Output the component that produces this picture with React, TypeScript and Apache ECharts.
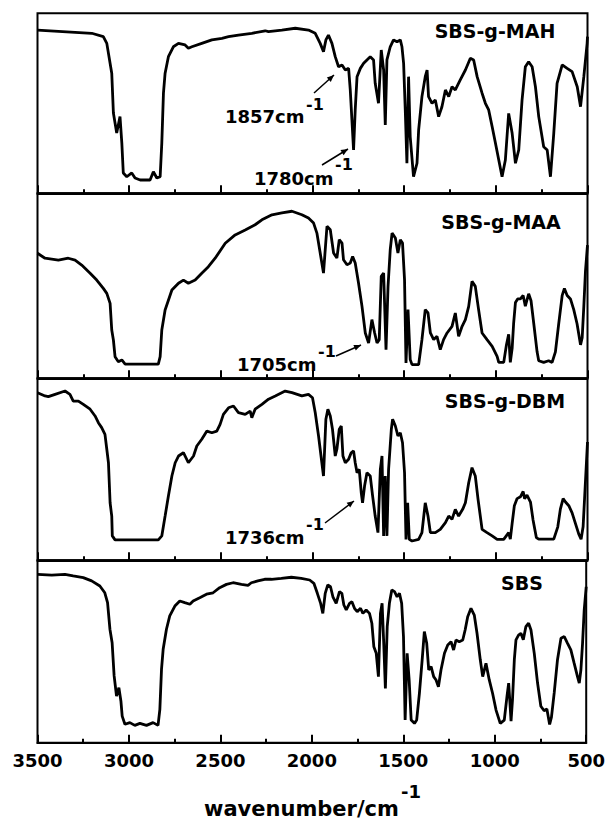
import React, { useEffect, useRef } from "react";
import * as echarts from "echarts";

// Panel labels (top to bottom)
const panelNames = ["SBS-g-MAH", "SBS-g-MAA", "SBS-g-DBM", "SBS"];
const xMin = 500;
const xMax = 3500;
const xInterval = 500;

// [wavenumber (cm-1), relative transmittance (0 = panel bottom, 100 = panel top)]
const sbsMAH: [number, number][] = [
  [3500, 90.7], [3204, 88.9], [3141, 87], [3122, 83.3], [3095, 66.7], [3086, 44.6], [3068, 33.5], [3050, 42.6],
  [3040, 27.9], [3032, 11.3], [3013, 9.2], [2986, 11.3], [2968, 8.5], [2940, 7.4], [2886, 7.4], [2868, 12],
  [2849, 8.5], [2831, 9.2], [2822, 27.9], [2813, 55.6], [2804, 66.7], [2786, 75.9], [2759, 81.4], [2731, 83.3],
  [2695, 82.4], [2677, 80.6], [2658, 81.4], [2604, 83.3], [2549, 85.2], [2494, 86.1], [2458, 87], [2404, 87.9],
  [2331, 88.9], [2258, 90.3], [2240, 89.8], [2167, 90.7], [2094, 91.7], [2022, 90.7], [1985, 88.9], [1958, 83.3],
  [1940, 78.7], [1927, 85.2], [1913, 87.9], [1894, 83.3], [1876, 75.9], [1858, 70.3], [1839, 71.3], [1821, 68.5],
  [1803, 69.4], [1794, 57.4], [1785, 40.7], [1776, 24.1], [1767, 46.3], [1757, 64.8], [1739, 69.4], [1721, 72.2],
  [1703, 74.1], [1685, 75.9], [1667, 74.1], [1658, 61.1], [1640, 50], [1625, 79.6], [1612, 68.5], [1603, 37.9],
  [1594, 74.1], [1576, 81.4], [1558, 85.2], [1539, 84.2], [1521, 85.2], [1512, 81.4], [1503, 72.2], [1494, 46.3],
  [1485, 16.7], [1476, 64.8], [1467, 31.4], [1449, 9.2], [1430, 16.7], [1421, 35.2], [1403, 53.7], [1385, 64.8],
  [1375, 68.5], [1367, 53.7], [1348, 50], [1330, 51.8], [1312, 42.6], [1294, 48.1], [1275, 57.4], [1257, 53.7],
  [1239, 59.2], [1221, 57.4], [1194, 63], [1166, 68.5], [1139, 75], [1121, 74.1], [1102, 64.8], [1075, 55.6],
  [1057, 50], [1039, 46.3], [1020, 37], [1002, 27.8], [984, 18.5], [966, 9.2], [948, 18.5], [930, 44.4],
  [911, 33.3], [893, 16.7], [875, 24.1], [857, 51.8], [839, 70.3], [821, 73.1], [802, 70.3], [784, 59.2],
  [766, 42.6], [739, 25.9], [720, 24.1], [702, 9.2], [684, 33.3], [666, 61.1], [638, 71.3], [611, 69.4],
  [584, 67.6], [556, 59.2], [538, 48.1], [520, 64.8], [502, 83.3], [500, 87],
];

const sbsMAA: [number, number][] = [
  [3500, 67.6], [3459, 64.9], [3386, 63.9], [3332, 64.9], [3295, 63.9], [3259, 61.2], [3213, 56.8], [3177, 53.1],
  [3141, 48.6], [3122, 45.9], [3104, 40.5], [3095, 26.1], [3086, 20.7], [3077, 11.7], [3059, 9], [3040, 9.9],
  [3022, 7.7], [2841, 7.7], [2831, 11.7], [2822, 26.1], [2804, 36.9], [2767, 47.7], [2731, 51.4], [2704, 53.1],
  [2677, 51.4], [2640, 53.1], [2604, 56.8], [2568, 60.3], [2531, 64.9], [2476, 73], [2422, 77.5], [2367, 80.2],
  [2313, 83], [2276, 85.7], [2221, 88.4], [2167, 89.4], [2112, 90.3], [2058, 88.4], [2022, 86.6], [1994, 83.9],
  [1976, 78.5], [1958, 67.7], [1940, 56.9], [1921, 82.2], [1903, 80.3], [1885, 67.7], [1867, 65], [1854, 74.9],
  [1839, 73.1], [1831, 64.1], [1812, 61.4], [1794, 62.3], [1781, 65.9], [1767, 62.3], [1749, 51.5], [1730, 38.9],
  [1712, 24.5], [1694, 19.1], [1676, 31.7], [1661, 24.5], [1648, 19.1], [1636, 20.9], [1625, 55.1], [1612, 56.9],
  [1599, 15.5], [1588, 49.7], [1576, 69.5], [1566, 78.5], [1548, 75.8], [1534, 67.7], [1521, 74.9], [1509, 73.1],
  [1498, 53.3], [1490, 8.3], [1479, 37.1], [1467, 10.1], [1457, 7.4], [1421, 7.4], [1403, 20.9], [1385, 37.1],
  [1370, 35.3], [1357, 24.5], [1339, 20.9], [1321, 22.7], [1303, 15.5], [1285, 20.9], [1266, 24.5], [1239, 28.1],
  [1221, 35.3], [1203, 22.7], [1184, 28.1], [1166, 31.7], [1148, 38.9], [1130, 52.4], [1112, 49.7], [1094, 37.1],
  [1075, 24.5], [1048, 20.9], [1020, 17.3], [993, 11.9], [984, 8.6], [957, 8.6], [942, 18.1], [930, 23.8],
  [921, 8.6], [911, 16.2], [903, 29.5], [893, 41], [881, 42.9], [866, 42.9], [851, 44.8], [839, 39],
  [821, 45.7], [808, 41.9], [793, 29.5], [775, 14.3], [766, 9.5], [739, 8.6], [712, 9.5], [693, 8.6],
  [675, 14.3], [657, 29.5], [638, 44.8], [626, 48.6], [611, 44.8], [593, 42.9], [575, 37.1], [557, 29.5],
  [538, 18.1], [529, 21.9], [520, 39], [511, 58.1], [502, 69.5], [500, 72],
];

const sbsDBM: [number, number][] = [
  [3500, 92.1], [3459, 90.3], [3441, 89.9], [3404, 91.2], [3350, 93], [3323, 91.2], [3305, 87.5], [3277, 87.5],
  [3250, 85.7], [3213, 83], [3186, 79.3], [3168, 75.6], [3150, 72.9], [3132, 69.2], [3122, 61], [3113, 53.6],
  [3104, 31.6], [3095, 24.3], [3092, 13.4], [3077, 11.2], [2841, 11.2], [2822, 13.4], [2804, 24.3], [2786, 35.3],
  [2767, 46.3], [2749, 53.6], [2731, 57.3], [2704, 59.1], [2677, 53.6], [2649, 57.3], [2631, 62.8], [2604, 66.5],
  [2576, 71], [2549, 70.1], [2522, 71], [2504, 74.7], [2486, 80.2], [2458, 83.8], [2431, 84.8], [2404, 81.1],
  [2367, 80.2], [2340, 82], [2331, 78.4], [2313, 83], [2276, 85.7], [2240, 88.5], [2203, 90.3], [2149, 93],
  [2112, 92.1], [2058, 90.3], [2022, 91.2], [2000, 89.3], [1985, 81.1], [1967, 68.3], [1949, 53.6], [1940, 46.3],
  [1927, 77.5], [1916, 83], [1903, 79.3], [1891, 72], [1876, 57.3], [1867, 61], [1854, 72], [1843, 73.8],
  [1834, 57.3], [1821, 53.6], [1803, 55.5], [1789, 59.1], [1776, 60.1], [1767, 53.6], [1757, 48.1], [1745, 50],
  [1734, 37.1], [1727, 31.6], [1716, 40.8], [1703, 48.1], [1685, 46.3], [1672, 35.3], [1658, 24.3], [1643, 15.2],
  [1630, 50], [1621, 57.3], [1612, 13.4], [1603, 46.3], [1594, 13.4], [1585, 50], [1570, 72], [1563, 77.5],
  [1548, 73.8], [1534, 68.3], [1521, 70.1], [1509, 64.6], [1498, 48.1], [1490, 11.5], [1481, 31.6], [1472, 11.5],
  [1457, 10.6], [1421, 11.5], [1403, 15.2], [1385, 31.6], [1370, 24.3], [1357, 15.2], [1330, 15.2], [1303, 17],
  [1275, 20.7], [1257, 24.3], [1239, 22.5], [1221, 28], [1203, 24.3], [1181, 28], [1166, 31.6], [1148, 42.6],
  [1130, 50.9], [1112, 46.3], [1097, 33.5], [1075, 17], [1048, 15.2], [1020, 13.4], [993, 11.5], [957, 11.5],
  [930, 15.2], [921, 11.6], [911, 20.3], [899, 30], [884, 33.9], [866, 34.9], [851, 37.8], [843, 33.9],
  [830, 35.8], [811, 32], [797, 22.2], [779, 12.5], [766, 11.6], [684, 11.6], [662, 18.4], [648, 28.1],
  [633, 33.9], [620, 32], [602, 30], [584, 26.1], [566, 20.3], [548, 14.5], [535, 11.6], [524, 18.4],
  [515, 35.8], [506, 53.3], [500, 65],
];

const sbs: [number, number][] = [
  [3500, 92.3], [3422, 91.9], [3350, 92.3], [3305, 91.4], [3250, 90.5], [3204, 88.7], [3159, 85.9], [3132, 82.2],
  [3117, 76.8], [3104, 62.2], [3092, 54.8], [3081, 36.6], [3068, 25.6], [3055, 30.2], [3044, 22.9], [3037, 14.6],
  [3022, 10.1], [2995, 11], [2968, 9.5], [2940, 10.6], [2904, 9.5], [2868, 11], [2841, 9.5], [2831, 18.3],
  [2822, 40.2], [2813, 51.2], [2795, 62.2], [2777, 69.5], [2749, 74.9], [2722, 77.7], [2695, 76.8], [2667, 75.9],
  [2649, 77.7], [2613, 79.5], [2576, 81.4], [2540, 82.2], [2504, 85], [2467, 86.8], [2431, 87.7], [2385, 86.8],
  [2349, 86.3], [2331, 87.7], [2295, 88.7], [2258, 89.6], [2221, 89.6], [2167, 90.1], [2112, 90.7], [2058, 90.1],
  [2012, 89.2], [1989, 87.4], [1970, 81.9], [1952, 76.4], [1940, 70.9], [1927, 81.9], [1913, 86.5], [1898, 85.5],
  [1885, 80], [1867, 76.4], [1849, 82.8], [1836, 81.9], [1825, 75.5], [1812, 72.8], [1794, 76.4], [1781, 77.3],
  [1767, 73.7], [1752, 71.8], [1734, 73.7], [1721, 70.9], [1703, 72.8], [1685, 70.9], [1672, 65.5], [1661, 52.6],
  [1648, 49], [1636, 36.2], [1625, 70.9], [1616, 76.4], [1607, 54.5], [1598, 29.8], [1588, 63.6], [1576, 76.4],
  [1563, 83.7], [1548, 82.8], [1534, 80], [1521, 81.9], [1509, 76.4], [1499, 58.1], [1490, 12.4], [1479, 49],
  [1468, 34.4], [1457, 12.4], [1439, 10.6], [1427, 12.4], [1412, 27.1], [1397, 45.3], [1385, 60.9], [1372, 54.5],
  [1361, 39.9], [1348, 41.7], [1334, 36.2], [1321, 34.4], [1308, 30.7], [1294, 39.9], [1275, 49], [1257, 53.6],
  [1239, 55.4], [1225, 50.8], [1212, 56.3], [1194, 55.4], [1175, 56.3], [1162, 61.8], [1148, 69.1], [1130, 73.7],
  [1112, 70], [1097, 60], [1079, 45.3], [1066, 36.2], [1048, 43.5], [1030, 34.4], [1012, 27.1], [993, 17.9],
  [970, 10.6], [948, 12.4], [933, 25.5], [924, 32.7], [917, 21.8], [911, 11.8], [903, 23.6], [893, 45.5],
  [884, 56.4], [870, 59], [857, 60], [844, 56.4], [830, 63.6], [815, 65.5], [802, 61.8], [784, 49],
  [766, 32.7], [748, 20], [730, 17.5], [715, 18.5], [700, 10], [690, 14], [675, 27.3], [657, 45.5],
  [638, 57.3], [620, 58.2], [602, 54.5], [584, 50.9], [566, 43.6], [548, 36.4], [538, 32.7], [529, 40],
  [520, 54.5], [511, 72.7], [500, 85.5],
];

const spectra = [sbsMAH, sbsMAA, sbsDBM, sbs];

// Peak annotations: label text and superscript
const annotations = [
  { text: "1857cm", sup: "-1", tx: 225, ty: 116.5, sx: 306, sy: 104, a: [314, 93, 334, 75] },
  { text: "1780cm", sup: "-1", tx: 254, ty: 178.5, sx: 335, sy: 164, a: [322, 165, 348, 149] },
  { text: "1705cm", sup: "-1", tx: 237, ty: 364.5, sx: 318, sy: 351, a: [336, 356, 361, 345] },
  { text: "1736cm", sup: "-1", tx: 225, ty: 537.5, sx: 306, sy: 524, a: [325, 523, 354, 501] },
];

const FONT = '"DejaVu Sans", "Liberation Sans", Arial, sans-serif';

function arrowHead(x1: number, y1: number, x2: number, y2: number) {
  const dx = x2 - x1;
  const dy = y2 - y1;
  const len = Math.sqrt(dx * dx + dy * dy);
  const ux = dx / len;
  const uy = dy / len;
  const L = 7;
  const W = 3;
  const bx = x2 - ux * L;
  const by = y2 - uy * L;
  return [
    [x2, y2],
    [bx - uy * W, by + ux * W],
    [bx + uy * W, by - ux * W],
  ];
}

export default function App() {
  const ref = useRef<HTMLDivElement>(null);

  useEffect(() => {
    if (!ref.current) return;
    const chart = echarts.init(ref.current, null, { renderer: "svg" });

    const tops = [13.3, 193.3, 378.3, 560.3];
    const heights = [180, 185, 182, 182.4];
    const labelPos = [
      { x: 495, y: 31 },
      { x: 501, y: 222 },
      { x: 505, y: 401 },
      { x: 522, y: 583 },
    ];

    const grids = tops.map((t, i) => ({
      left: 37.5,
      width: 550,
      top: t,
      height: heights[i],
      show: true,
      borderColor: "#000",
      borderWidth: 2,
      backgroundColor: "transparent",
    }));

    const xAxes = tops.map((_, i) => ({
      type: "value",
      gridIndex: i,
      min: xMin,
      max: xMax,
      interval: xInterval,
      inverse: true,
      position: "bottom",
      axisLine: { show: true, onZero: false, lineStyle: { color: "#000", width: 2 } },
      axisTick: { show: true, inside: true, length: 8, lineStyle: { color: "#000", width: 2 } },
      minorTick: { show: true, splitNumber: 2, length: 4, lineStyle: { color: "#000", width: 2 } },
      splitLine: { show: false },
      minorSplitLine: { show: false },
      axisLabel: {
        show: i === 3,
        color: "#000",
        fontFamily: FONT,
        fontWeight: "bold",
        fontSize: 18,
        margin: 9,
        formatter: (v: number) => String(v),
      },
    }));

    const yAxes = tops.map((_, i) => ({
      type: "value",
      gridIndex: i,
      min: 0,
      max: 100,
      show: false,
    }));

    const series = spectra.map((d, i) => ({
      type: "line",
      name: panelNames[i],
      xAxisIndex: i,
      yAxisIndex: i,
      data: d,
      showSymbol: false,
      symbol: "none",
      lineStyle: { color: "#000", width: 2.8 },
      silent: true,
    }));

    const graphics: any[] = [];
    panelNames.forEach((name, i) => {
      graphics.push({
        type: "text",
        style: {
          text: name,
          x: labelPos[i].x,
          y: labelPos[i].y,
          align: "center",
          verticalAlign: "middle",
          font: `bold 19px ${FONT}`,
          fill: "#000",
        },
      });
    });
    annotations.forEach((a) => {
      graphics.push({
        type: "text",
        style: { text: a.text, x: a.tx, y: a.ty, align: "left", verticalAlign: "middle", font: `bold 18px ${FONT}`, fill: "#000" },
      });
      graphics.push({
        type: "text",
        style: { text: a.sup, x: a.sx, y: a.sy, align: "left", verticalAlign: "middle", font: `bold 16px ${FONT}`, fill: "#000" },
      });
      const [x1, y1, x2, y2] = a.a;
      graphics.push({
        type: "line",
        shape: { x1, y1, x2, y2 },
        style: { stroke: "#000", lineWidth: 1.5 },
      });
      graphics.push({
        type: "polygon",
        shape: { points: arrowHead(x1, y1, x2, y2) },
        style: { fill: "#000" },
      });
    });
    // axis title with superscript
    graphics.push({
      type: "text",
      style: { text: "wavenumber/cm", x: 204, y: 809, align: "left", verticalAlign: "middle", font: `bold 21px ${FONT}`, fill: "#000" },
    });
    graphics.push({
      type: "text",
      style: { text: "-1", x: 401, y: 791, align: "left", verticalAlign: "middle", font: `bold 18px ${FONT}`, fill: "#000" },
    });

    chart.setOption({
      animation: false,
      backgroundColor: "#fff",
      grid: grids,
      xAxis: xAxes,
      yAxis: yAxes,
      series,
      graphic: graphics,
    });

    return () => chart.dispose();
  }, []);

  return (
    <div
      ref={ref}
      style={{ width: 608, height: 823, position: "absolute", left: 0, top: 0 }}
    />
  );
}
